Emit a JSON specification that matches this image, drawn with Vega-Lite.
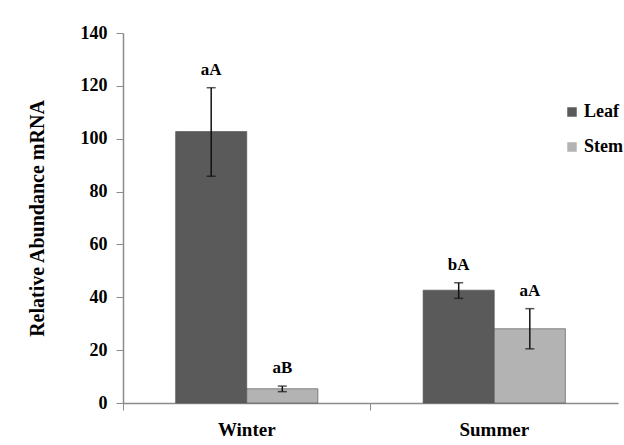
{
  "$schema": "https://vega.github.io/schema/vega-lite/v6.json",
  "width": 495,
  "height": 370,
  "autosize": "none",
  "padding": {"left": 123, "top": 33, "right": 6, "bottom": 42},
  "background": "white",
  "config": {
    "view": {"stroke": null},
    "font": "Liberation Serif",
    "axis": {"labelFont": "Liberation Serif", "titleFont": "Liberation Serif", "labelFontWeight": "bold", "titleFontWeight": "bold", "labelColor": "black", "titleColor": "black", "domainColor": "#8c8c8c", "tickColor": "#8c8c8c", "grid": false}
  },
  "data": {
    "values": [
      {"season": "Winter", "tissue": "Leaf", "mean": 102.7, "lo": 85.8, "hi": 119.3, "label": "aA"},
      {"season": "Winter", "tissue": "Stem", "mean": 5.4, "lo": 4.3, "hi": 6.4, "label": "aB"},
      {"season": "Summer", "tissue": "Leaf", "mean": 42.7, "lo": 39.6, "hi": 45.5, "label": "bA"},
      {"season": "Summer", "tissue": "Stem", "mean": 28.1, "lo": 20.5, "hi": 35.7, "label": "aA"}
    ]
  },
  "encoding": {
    "x": {
      "field": "season", "type": "nominal", "sort": ["Winter", "Summer"],
      "scale": {"padding": 0},
      "axis": {"title": null, "labelAngle": 0, "labelFontSize": 19, "tickSize": 7, "labelPadding": 10, "bandPosition": 0, "domainWidth": 1.5}
    },
    "xOffset": {"field": "tissue", "type": "nominal", "sort": ["Leaf", "Stem"], "scale": {"paddingInner": 0, "paddingOuter": 0.74}}
  },
  "layer": [
    {
      "mark": {"type": "bar", "stroke": "#4a4a4a", "strokeWidth": 0.6},
      "encoding": {
        "y": {
          "field": "mean", "type": "quantitative",
          "scale": {"domain": [0, 140], "nice": false},
          "axis": {"title": "Relative  Abundance  mRNA", "titleFontSize": 20, "titlePadding": 33, "labelFontSize": 18, "values": [0, 20, 40, 60, 80, 100, 120, 140], "tickSize": 7, "labelPadding": 9, "domainWidth": 1.5}
        },
        "color": {
          "field": "tissue", "type": "nominal", "sort": ["Leaf", "Stem"],
          "scale": {"domain": ["Leaf", "Stem"], "range": ["#5a5a5a", "#b3b3b3"]},
          "legend": {"title": null, "orient": "none", "legendX": 440, "legendY": 70, "symbolType": "square", "symbolSize": 90, "symbolStrokeWidth": 0, "labelFontSize": 18, "labelFontWeight": "bold", "labelFont": "Liberation Serif", "labelColor": "black", "rowPadding": 17, "labelOffset": 3}
        }
      }
    },
    {
      "mark": {"type": "rule", "color": "#111111", "strokeWidth": 1.5},
      "encoding": {
        "y": {"field": "lo", "type": "quantitative"},
        "y2": {"field": "hi"}
      }
    },
    {
      "mark": {"type": "tick", "color": "#111111", "thickness": 1.5, "size": 9},
      "encoding": {"y": {"field": "lo", "type": "quantitative"}}
    },
    {
      "mark": {"type": "tick", "color": "#111111", "thickness": 1.5, "size": 9},
      "encoding": {"y": {"field": "hi", "type": "quantitative"}}
    },
    {
      "mark": {"type": "text", "baseline": "bottom", "dy": -9, "fontSize": 17, "fontWeight": "bold", "font": "Liberation Serif", "color": "black"},
      "encoding": {
        "y": {"field": "hi", "type": "quantitative"},
        "text": {"field": "label"}
      }
    }
  ]
}
